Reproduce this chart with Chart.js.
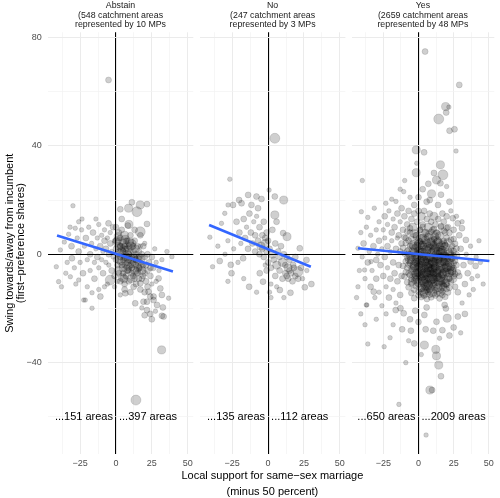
<!DOCTYPE html>
<html>
<head>
<meta charset="utf-8">
<script src="https://cdn.jsdelivr.net/npm/chart.js@4.4.1/dist/chart.umd.min.js"></script>
<style>
  html, body { margin: 0; padding: 0; background: #fff; overflow: hidden; }
  #wrap { position: relative; width: 500px; height: 498px; }
  canvas { position: absolute; left: 0; top: 0; }
</style>
</head>
<body>
<div id="wrap">
  <canvas id="p0" width="500" height="498"></canvas>
  <canvas id="p1" width="500" height="498"></canvas>
  <canvas id="p2" width="500" height="498"></canvas>
</div>
<script>
// facet labels and counts
const panelNames = ['Abstain', 'No', 'Yes'];
const panelAreas = [548, 247, 2659];
const panelMPs = [10, 3, 48];
const areasBelow = [151, 135, 650];
const areasAbove = [397, 112, 2009];

// axis breaks
const xTicks = [-37.5, -25, -12.5, 0, 12.5, 25, 37.5, 50];
const xLabelled = [-25, 0, 25, 50];
const yTicks = [-60, -40, -20, 0, 20, 40, 60, 80];
const yLabelled = [-40, 0, 40, 80];

// fitted lines (x, y)
const fitAbstain = [[-41.1, 6.9], [39.7, -6.4]];
const fitNo = [[-41.1, 10.8], [29.8, -4.6]];
const fitYes = [[-43, 2.2], [50.4, -2.5]];

// points: [support, swing, weight]
const abstainPoints = [
  [-5.2,64.3,2],[13.9,-53.8,4],[31.8,-35.3,3],
  [-30,17.9,1],[11.1,19.2,2],[16.9,18.2,3],[21.6,18.5,2],[14.6,15.7,4],[8.8,17,3],[3,16.6,2],
  [-23.7,13,1],[-5.2,11.4,2],[8.3,10.6,2],[21.6,11.2,2],[16.9,8.3,4],[-28.4,9.6,1],[-33,7.4,1],
  [-38.8,1.6,1],[-41.6,-4.6,1],[-40,-10.1,1],[-31.8,-8.3,1],[-30.7,-1.5,2],[-26,-9.5,1],
  [-22.5,-16.9,1],[-16.7,-14.2,1],[-10.9,-15.6,2],[-4,-9.5,4],[-16.7,-19.9,1],[-21.4,-16.9,1],
  [-36,4.5,1],[-34,-3,1],[-31,3,2],[-29,-5,1],[-27,6,1],[-26,1,2],[-25,-3,1],[-24,9,1],
  [-23,-7,2],[-22,3,1],[-21,6,2],[-20,-2,1],[-19,10,1],[-18,0,2],[-18,-6,1],[-17,4,1],
  [-16,8,2],[-15,-3,1],[-15,-9,2],[-14,2,1],[-13,6,1],[-13,-1,2],[-12,11,1],[-12,-5,1],
  [-11,3,2],[-10,7,1],[-10,-2,1],[-9,-7,2],[-9,1,1],[-8,5,2],[-8,9,1],[-7,-3,1],[-7,2,2],
  [-6,-11,1],[-6,6,1],[-5,0,2],[-5,-4,1],[-4,4,2],[-4,8,1],[-3,-6,2],[-3,1,1],[-2,10,2],
  [-2,-1,1],[-1,5,1],[-1,-8,2],[-28,-11,1],[-35,-7,1],[-38,-12,1],[-32,10,1],[-20,-12,1],
  [-12,-13,1],[-8,-12,1],[-14,13,1],[-26,12,1],
  [6.5,-14.4,2],[13.4,-18.1,2],[21.6,-17.5,2],[26.2,-15.6,2],[30.9,-12.6,2],[35.5,1,1],[39,-0.9,1],
  [23.9,-15.6,2],[26.2,-16.9,2],[19.2,-17.5,2],[21.6,-20.6,2],[28.6,-18.7,2],[32,-15,2],[36.7,-16.2,1],
  [22.7,-13.8,2],[16.9,-10.7,2],[29.7,-8.9,2],[33.2,-23,2],[23.9,-22,2],[32,-22.7,2],[32.7,-19.6,2],
  [25,-24,2],[20,-22.5,2],[27.5,-21,1],[18,-19.8,1],[12.3,-12,2],
  [0,2,2],[0,-2,2],[1,5,3],[1,-4,2],[1,0,2],[2,8,2],[2,-7,2],[2,3,3],[3,-1,2],[3,6,2],
  [3,-10,2],[4,1,3],[4,-4,2],[4,9,2],[5,-2,2],[5,4,3],[5,-7,2],[6,0,2],[6,7,3],[6,-11,2],
  [6,-4,2],[7,2,2],[7,-1,3],[7,-8,2],[8,5,2],[8,-3,2],[8,0,3],[9,-6,2],[9,3,2],[9,-10,2],
  [10,-2,3],[10,1,2],[10,7,2],[11,-5,2],[11,-1,2],[11,4,3],[12,-8,2],[12,-3,2],[12,1,2],
  [13,-6,3],[13,-1,2],[13,5,2],[14,-4,2],[14,-11,2],[14,0,2],[15,-7,2],[15,-2,3],[15,3,2],
  [16,-5,2],[16,-9,2],[16,1,2],[17,-3,2],[17,-13,2],[18,-6,3],[18,0,2],[18,-9,2],[19,-4,2],
  [19,3,2],[20,-7,2],[20,-1,2],[21,-10,2],[21,-4,2],[22,0,2],[22,-6,2],[23,-3,2],[24,-8,2],
  [25,-1,2],[26,-5,2],[27,2,1],[28,-3,1],[30,-6,1],[32,-2,1],[9,11,3],[4,13,2],[13,9,2],
  [17,7,2],[6,-13,2],[3,-15,1],[10,-14,2],[1,-10,1],[-1,-12,1],[0,10,2],[2,-2,3],[3,3,2],
  [5,1,2],[7,5,2],[8,-6,2],[9,0,2],[11,-7,2],[12,3,2],[14,-2,2],[5,-5,3],[10,-4,2],[6,3,2],
  [8,2,2],[13,-9,2],[16,-1,2],[19,-8,2],[17,3,1],[20,4,1],[24,-5,2],[22,-12,2],[20,-14,2],
  [25,-11,1],[28,-10,1],
  [1.5,6.5,3],[3.5,-2.5,3],[5.5,2.5,3],[7.5,-5.5,3],[9.5,4.5,3],[11.5,-3.5,3],[13.5,2,3],
  [15.5,-5,3],[4.5,-8.5,3],[10.5,-9,3],[17.5,-1.5,3],[6.5,5.5,3],[2.5,0.5,3],[8.5,-1.5,3],
  [3.5,2.5,3],[8.5,-4.5,3],[12.5,-1.5,3],[5.5,-9,3],[14.5,-6.5,3],[1.5,-6,3],[10.5,3,3],
  [17.5,-4.5,3],[0.5,4.5,3],[6.5,-1.5,3]
];

const noPoints = [
  [4.7,42.8,4],[-26.7,27.7,1],[0.7,23.7,1],[10.9,20,3],[4.7,21.3,2],[-4.6,20.4,2],[-8.1,21.3,2],
  [-13.9,21.9,2],[-20.2,20,2],[-24.4,18.2,2],[-27.9,18.2,1],[-18.5,18.8,2],[-11.6,18.2,2],[-7,17,2],
  [-30.2,15.1,1],[-32.5,11.4,1],[-40.6,6.3,1],[-38.7,-4.6,1],[-33.7,-2.5,2],[-26,-3.9,2],[-25.5,-7,2],
  [-17.4,-1.5,2],[-13.2,-12,2],[-3.5,-10.1,2],[-5.8,-7,2],[8.2,-13.2,2],[15.6,-14.2,2],[25.6,-12.2,2],
  [30.2,-11,2],[20.9,-6.4,4],[17.4,-3.9,2],[22.1,2.2,2],[26.8,-2.1,2],[13.2,6.5,3],[4.7,14.5,3],
  [5.9,12,2],[10.5,7.8,2],
  [-22,12,2],[-20,8,2],[-19,4,1],[-17,13,2],[-16,6,2],[-15,10,1],[-14,2,2],[-13,15,2],[-12,8,2],
  [-11,4,2],[-10,12,1],[-9,1,2],[-9,7,2],[-8,14,1],[-7,5,2],[-6,10,2],[-6,0,2],[-5,3,3],[-4,7,2],
  [-3,-1,2],[-3,12,2],[-2,4,3],[-1,1,2],[-1,8,2],[0,-3,2],[0,5,2],[-28,5,1],[-24,2,1],[-30,0,1],
  [-21,-3,1],[-35,3,1],
  [1,2,2],[2,-5,2],[3,0,3],[3,9,2],[4,-2,2],[5,4,2],[5,-8,2],[6,-4,3],[7,1,2],[8,-6,2],[8,-1,2],
  [9,3,2],[10,-9,2],[10,-3,3],[11,0,2],[12,-7,2],[12,-4,2],[13,-1,2],[14,-9,2],[14,-5,3],[15,-2,2],
  [16,-7,2],[17,-10,2],[18,-5,2],[19,-8,2],[19,-1,2],[21,-9,2],[23,-5,2],[24,-9,1],[27,-6,1],
  [2,-11,1],[6,-12,1],[-1,-6,2],[-2,-4,1],[1,-14,1],[11,-16,1],[-8,-14,1],[-17,-9,1],[-28,-10,1],
  [2,-16,1],[-4,2,2],[-2,6,2],[15,-6,2],[13,-8,2]
];

const yesPoints = [
  [4.7,74.8,2],[29,62.5,2],[19.3,54.5,3],[21.6,54.3,1],[19.7,52.3,2],[14.4,49.9,4],[22.1,45.6,2],
  [25.6,46.1,2],[-1.6,38.5,3],[4,37.6,2],[26.7,38.1,1],[-1.2,33.6,1],[-1.6,30.1,3],[15.6,33,3],
  [17.4,29.3,4],[12.8,27.4,3],[15.6,26.2,2],[9.3,22.3,3],[-39.9,27.2,1],[-9.8,27.2,1],[-10.5,23.1,1],
  [-19,20.3,1],[-23.2,18.8,1],[-16,19.5,1],[-3,18.2,2],[5.8,19.4,2],[13.9,18.2,2],[22,19.4,2],
  [-31.4,17,1],[-40.6,15.7,1],[-36,13.6,1],[24.4,13.3,2],[27.9,11.4,2],[30.9,9.6,2],[33.7,5.3,2],
  [40.6,-4.3,2],[37.1,-2.7,2],[-43,-12,1],[-37.1,-18.7,1],[-31.8,-13.8,2],[-38.3,-5.8,1],
  [-33.7,-2.7,1],[-30,-2.1,2],[-43,2.2,1],
  [-36.7,-18.7,1],[-16.2,-20.6,2],[-12.8,-19.9,2],[-10.5,-21.8,2],[-2.3,-20.8,2],[5.8,-19.6,2],
  [4.2,-22.4,2],[12.8,-24.9,2],[18.6,-18.7,2],[19.5,-20,2],[20.4,-23.6,3],[-11.6,-27.7,2],
  [-5.4,-28.2,2],[5.1,-27.7,2],[10.5,-28.2,2],[-20.2,-30.8,1],[-7,-31.9,1],[-3,-32.9,2],
  [4.2,-33.5,3],[-36,-33.1,1],[-24.4,-34.1,1],[12.3,-35.1,3],[12.8,-37.5,3],[14.4,-40.9,3],
  [8.1,-50.1,3],[9.7,-50.1,2],[-13.9,-55.4,1],[5.4,-66.7,1],
  [-28,12,1],[-25,9,1],[-24,14,2],[-22,11,1],[-21,16,1],[-19,8,2],[-18,13,1],[-17,10,2],[-15,15,2],
  [-14,7,2],[-13,12,1],[-12,17,2],[-11,9,2],[-10,14,2],[-9,6,2],[-8,11,2],[-7,16,2],[-6,8,2],
  [-5,13,2],[-4,10,3],[-3,15,2],[-2,7,2],[-1,12,2],[0,16,2],[1,9,2],[2,14,3],[3,11,2],[4,16,2],
  [5,8,2],[6,13,2],[7,10,3],[8,15,2],[9,12,2],[10,9,2],[11,14,3],[12,11,2],[13,8,2],[14,13,2],
  [16,10,2],[17,15,2],[18,12,2],[19,8,2],[20,14,2],[21,10,2],[23,16,1],[25,9,2],[27,14,1],[29,7,2],
  [31,12,1],[0,21,2],[8,20,2],[-6,21,1],[16,22,2],[3,24,2],[-13,24,1],[20,25,1],[11,30,2],[7,26,2],
  [-41,8,1],[-40,-1,1],[-39,4,2],[-38,-9,1],[-37,10,1],[-36,-3,2],[-35,1,1],[-34,7,1],[-34,-12,2],
  [-33,-6,1],[-32,3,2],[-31,-16,1],[-30,9,1],[-30,-9,2],[-29,0,1],[-28,5,2],[-28,-14,1],[-27,-4,2],
  [-26,2,1],[-26,-19,1],[-25,-8,2],[-24,6,1],[-24,-1,2],[-23,-12,1],[-22,3,2],[-22,-5,1],[-21,-16,2],
  [-20,1,1],[-20,-9,2],[-19,5,1],[-18,-3,2],[-18,-13,1],[-17,-7,2],[-16,2,2],[-16,-18,1],[-15,-10,2],
  [-15,6,1],[-14,-4,2],[-13,1,2],[-13,-15,2],[-12,-8,2],[-12,4,2],[-42,-6,1],[-44,-16,1],[-41,-22,1],
  [-38,-26,1],[-30,-24,1],[-23,-22,1],
  [28,-14,2],[29,-8,2],[30,2,2],[31,-18,1],[32,-4,2],[33,-11,2],[34,0,1],[35,-7,2],[36,-15,1],
  [37,3,1],[38,-9,1],[39,-13,1],[41,-1,1],[42,-8,1],[44,-3,1],[46,-11,1],[43,5,1],[33,-22,2],
  [28,-23,2],[25,-27,2],[30,-29,1],[22,-30,2],[17,-28,2],[15,-31,1],[0,-25,2],[-6,-24,2],[-18,-26,1],
  [2,-37,1],[-9,-40,1],[16,-45,2],
  [-8,8.4,2],[-3,7.6,3],[1,8.9,2],[5,7.8,3],[9,8.3,2],[13,7.4,3],[18,8.7,2],[22,7.9,2],
  [-10,6.3,2],[-5,5.7,2],[-1,6.6,3],[3,5.9,3],[7,6.2,3],[11,5.5,2],[15,6.8,3],[20,6.1,2],[25,5.6,2],
  [-9,4.2,2],[-4,3.6,3],[0,4.5,3],[2.5,3.8,2],[6,4.1,3],[10,3.4,3],[14,4.6,3],[17,3.7,2],[21,4.3,3],[26,3.9,2],
  [-11,2.4,2],[-7,1.7,2],[-2,2.2,3],[1,1.5,3],[4,2.6,3],[8,1.9,4],[12,2.3,3],[16,1.6,3],[19,2.7,3],[23,1.8,2],[27,2.1,2],
  [-10,0.3,2],[-6,-0.4,3],[-3,0.6,3],[0,-0.2,3],[3,0.4,4],[5.5,-0.6,3],[9,0.5,3],[13,-0.3,4],[15.5,0.7,3],[18,-0.5,3],[22,0.2,3],[25,-0.4,2],
  [-8,-1.3,2],[-1,-1.8,3],[2,-1.1,3],[6,-1.6,3],[11,-1.4,3],[14,-1.9,3],[20,-1.2,3],[24,-1.7,2],
  [-9,-2.6,2],[-5,-2.2,3],[-2,-2.9,3],[1,-2.4,3],[4,-2.7,4],[7,-2.1,3],[10,-2.8,3],[13,-2.3,4],[17,-2.6,3],[21,-2.9,3],[26,-2.4,2],
  [-11,-4.3,2],[-7,-3.8,2],[-3,-4.5,3],[0,-3.9,3],[3,-4.2,3],[6,-4.8,4],[9,-3.7,3],[12,-4.4,3],[16,-4.1,4],[19,-3.6,3],[23,-4.6,3],[27,-4,2],
  [-5,-5.4,2],[2,-5.9,3],[8,-5.2,3],[14,-5.7,3],[18,-5.3,3],[22,-5.8,3],
  [-9,-6.6,2],[-4,-6.2,3],[-1,-6.9,3],[2,-6.4,3],[5,-6.7,4],[8,-6.1,3],[11,-6.8,3],[15,-6.3,4],[20,-6.6,3],[24,-6.2,3],[28,-6.7,2],
  [-10,-8.2,2],[-6,-7.7,2],[-2,-8.5,3],[1,-8.1,3],[4,-7.8,3],[7,-8.4,3],[10,-7.9,4],[13,-8.3,3],[17,-7.6,3],[21,-8.6,3],[25,-8.1,2],
  [-8,-10.3,2],[-3,-9.7,2],[0,-10.4,3],[3,-9.9,3],[6,-10.5,3],[9,-9.6,3],[12,-10.2,3],[16,-9.8,3],[19,-10.6,3],[23,-10.1,2],
  [-7,-12.2,2],[-2,-11.7,2],[2,-12.4,3],[5,-11.8,3],[8,-12.5,3],[11,-11.9,3],[14,-12.3,3],[18,-11.6,2],[22,-12.4,2],[26,-12,2],
  [-5,-14.3,2],[0,-13.8,2],[4,-14.5,3],[7,-13.9,2],[10,-14.2,3],[13,-14.6,2],[17,-13.7,2],[21,-14.1,2],
  [-3,-16.2,2],[2,-15.8,2],[6,-16.5,2],[9,-15.9,2],[15,-16.3,2],[19,-15.7,2],
  [-6,9.6,2],[3,10.1,2],[11,9.3,2],[16,10.4,2],[20,9.8,2],
  [-7,5.1,2],[1,4.8,2],[5,5.3,3],[9,4.7,3],[13,5.2,3],[18,4.9,2],[23,5.4,2],
  [-6,3.1,2],[-1,2.8,3],[3,3.3,3],[7,2.9,3],[11,3.2,3],[15,2.7,3],[19,3.4,2],[24,3,2],
  [-8,1.1,2],[-4,0.9,3],[0,1.2,3],[2,0.8,3],[6,1.3,3],[10,0.9,3],[14,1.1,3],[17,1.4,3],[21,0.8,3],[25,1.2,2],
  [-5,-0.9,3],[-2,-1.1,3],[4,-0.8,3],[8,-1.2,3],[12,-0.9,3],[16,-1,3],[19,-0.7,3],[23,-1.1,2],
  [-6,-3.2,2],[-1,-3.1,3],[2,-3.3,3],[5,-2.9,3],[8,-3.4,3],[11,-3,3],[15,-3.2,3],[18,-2.8,3],[22,-3.1,3],[25,-3.3,2],
  [-8,-5,2],[-3,-5.1,3],[0,-4.8,3],[4,-5.2,3],[7,-4.9,3],[10,-5.3,3],[12,-5,3],[16,-5.1,3],[20,-4.9,3],[25,-5.2,2],
  [-7,-7.1,2],[-3,-7.3,2],[0,-6.9,3],[3,-7.2,3],[6,-7,3],[9,-7.4,3],[13,-7,3],[17,-7.2,3],[22,-6.9,3],[26,-7.3,2],
  [-5,-9,2],[-1,-9.2,3],[2,-8.9,3],[5,-9.3,3],[8,-9,3],[11,-9.1,3],[14,-8.8,3],[18,-9.2,3],[22,-9,2],
  [-5,-11,2],[0,-11.2,2],[4,-10.8,3],[7,-11.3,3],[10,-11,3],[13,-11.1,3],[17,-10.9,2],[20,-11.4,2],
  [-3,-13.1,2],[2,-12.9,2],[6,-13.2,2],[9,-13,3],[12,-13.3,2],[16,-13,2],[20,-12.8,2],
  [0,-15.1,2],[4,-15.3,2],[8,-14.9,2],[12,-15.2,2],[17,-15,2],
  [1.5,5.5,4],[6.5,-3.5,4],[11.5,1.5,4],[15.5,-8.5,4],[3.5,-10,4],[19.5,-2,4],[9.5,-6,4],
  [-0.5,-0.5,4],[13.5,4,4],[7.5,7,3],[17.5,-12,3],[-4.5,-10,3],[23.5,-6,3],[4.5,-13,3],
  [0.5,3.5,4],[4.5,-1.5,4],[8.5,4,4],[12.5,-6.5,4],[16.5,0.5,4],[20.5,-4.5,4],[2.5,-8,4],
  [6.5,-11.5,4],[10.5,-3,4],[14.5,-10,4],[18.5,-7,4],[22.5,-1,4],[-2.5,-4,4],[5.5,1.5,4],
  [9.5,-9,4],[13.5,-1.5,4],[17.5,3.5,4],[-1.5,-7.5,3],[24.5,-9,3],[26.5,-0.5,3],[11.5,6.5,3],
  [3.5,-14,3],[15.5,-14,3],[-6.5,-2,3],[7.5,-6.5,4],[1.5,-4.5,4],[19.5,-10.5,3],[-3.5,3,3]
];

const allPoints = [abstainPoints, noPoints, yesPoints];
const allFits = [fitAbstain, fitNo, fitYes];

const FONT = '"Liberation Sans", Arial, Helvetica, sans-serif';
const radius = [0, 2.3, 3.0, 4.1, 5.0, 5.8];
const panelLeft = [47.7, 199.8, 351.5];
const panelRight = [193.3, 345.4, 497.1];

function fmt(v) {
    return v < 0 ? '\u2212' + Math.abs(v) : String(v);
}

function gridColor(c, labelled) {
    if (!c.tick) return '#ebebeb';
    if (c.tick.value === 0) return '#000000';
    return labelled.includes(c.tick.value) ? '#ebebeb' : '#f2f2f2';
}

function gridWidth(c, labelled) {
    if (!c.tick) return 1;
    if (c.tick.value === 0) return 1.1;
    return labelled.includes(c.tick.value) ? 1 : 0.7;
}

// strip labels, annotations and axis titles
const panelText = {
    id: 'panelText',
    afterDraw(chart, args, opts) {
        const i = opts.idx;
        const ctx = chart.ctx;
        const ca = chart.chartArea;
        const cx = (ca.left + ca.right) / 2;
        ctx.save();
        ctx.fillStyle = '#1a1a1a';
        ctx.textAlign = 'center';
        ctx.textBaseline = 'alphabetic';
        ctx.font = '8.8px ' + FONT;
        ctx.fillText(panelNames[i], cx, 8.3);
        ctx.fillText('(' + panelAreas[i] + ' catchment areas', cx, 18.0);
        ctx.fillText('represented by ' + panelMPs[i] + ' MPs', cx, 27.2);

        const x0 = chart.scales.x.getPixelForValue(0);
        const yA = chart.scales.y.getPixelForValue(-60);
        ctx.fillStyle = '#000';
        ctx.font = '11px ' + FONT;
        ctx.textBaseline = 'middle';
        ctx.textAlign = 'right';
        ctx.fillText('...' + areasBelow[i] + ' areas', x0 - 3, yA);
        ctx.textAlign = 'left';
        ctx.fillText('...' + areasAbove[i] + ' areas', x0 + 3, yA);

        if (i === 1) {
            ctx.textAlign = 'center';
            ctx.fillText('Local support for same\u2212sex marriage', 272.4, 475.5);
            ctx.fillText('(minus 50 percent)', 272.4, 491.5);
        }
        if (i === 0) {
            const cy = (ca.top + ca.bottom) / 2;
            ctx.textAlign = 'center';
            ctx.save();
            ctx.translate(9.5, cy);
            ctx.rotate(-Math.PI / 2);
            ctx.fillText('Swing towards/away from incumbent', 0, 0);
            ctx.restore();
            ctx.save();
            ctx.translate(21, cy);
            ctx.rotate(-Math.PI / 2);
            ctx.fillText('(first\u2212preference shares)', 0, 0);
            ctx.restore();
        }
        ctx.restore();
    }
};

function makePanel(i) {
    const pts = allPoints[i].map(p => ({ x: p[0], y: p[1], w: p[2] }));
    const fit = allFits[i].map(p => ({ x: p[0], y: p[1] }));
    return new Chart(document.getElementById('p' + i), {
        type: 'scatter',
        data: {
            datasets: [
                {
                    data: fit,
                    showLine: true,
                    borderColor: '#3366FF',
                    borderWidth: 2.6,
                    pointRadius: 0,
                    fill: false,
                    order: 0
                },
                {
                    data: pts,
                    backgroundColor: 'rgba(0,0,0,0.19)',
                    borderColor: 'rgba(0,0,0,0.19)',
                    borderWidth: 0.7,
                    pointRadius: c => radius[c.raw.w],
                    order: 1
                }
            ]
        },
        options: {
            responsive: false,
            animation: false,
            events: [],
            layout: {
                padding: {
                    left: i === 0 ? 0 : panelLeft[i],
                    right: 500 - panelRight[i],
                    top: 32.3,
                    bottom: 0
                }
            },
            plugins: {
                legend: { display: false },
                tooltip: { enabled: false },
                panelText: { idx: i }
            },
            scales: {
                x: {
                    type: 'linear',
                    min: -47.6,
                    max: 53.9,
                    afterBuildTicks: s => { s.ticks = xTicks.map(v => ({ value: v })); },
                    afterFit: s => { s.height = 44; },
                    border: { display: false },
                    grid: {
                        drawTicks: false,
                        color: c => gridColor(c, xLabelled),
                        lineWidth: c => gridWidth(c, xLabelled)
                    },
                    ticks: {
                        autoSkip: false,
                        maxRotation: 0,
                        padding: 4.5,
                        color: '#4d4d4d',
                        font: { family: FONT, size: 9 },
                        callback: v => xLabelled.includes(v) ? fmt(v) : ''
                    }
                },
                y: {
                    type: 'linear',
                    min: -73.7,
                    max: 81.9,
                    afterBuildTicks: s => { s.ticks = yTicks.map(v => ({ value: v })); },
                    afterFit: s => { s.width = i === 0 ? 47.7 : 0; },
                    border: { display: false },
                    grid: {
                        drawTicks: false,
                        color: c => gridColor(c, yLabelled),
                        lineWidth: c => gridWidth(c, yLabelled)
                    },
                    ticks: {
                        display: i === 0,
                        autoSkip: false,
                        padding: 6,
                        color: '#4d4d4d',
                        font: { family: FONT, size: 9 },
                        callback: v => yLabelled.includes(v) ? fmt(v) : ''
                    }
                }
            }
        },
        plugins: [panelText]
    });
}

makePanel(0);
makePanel(1);
makePanel(2);
</script>
</body>
</html>
